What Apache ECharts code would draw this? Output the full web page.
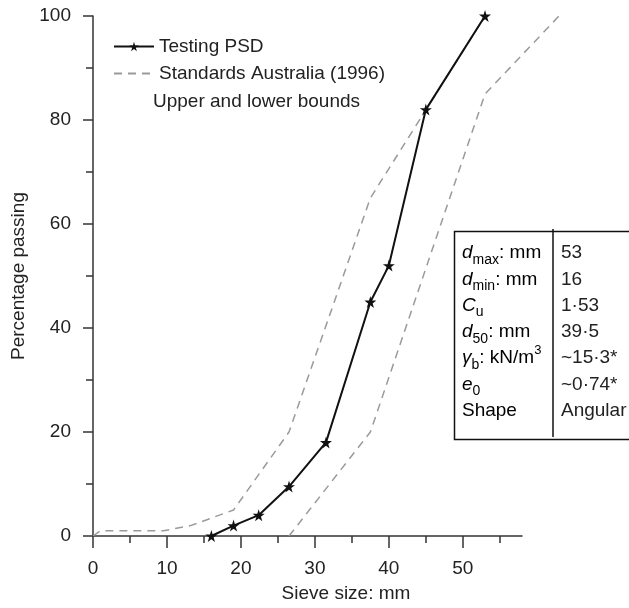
<!DOCTYPE html>
<html>
<head>
<meta charset="utf-8">
<script src="https://cdn.jsdelivr.net/npm/echarts@6/dist/echarts.min.js"></script>
<style>
  html, body { margin: 0; padding: 0; background: #fff; }
  #chart { width: 629px; height: 608px; }
</style>
</head>
<body>
<div id="chart"></div>
<script>
// sieve size (mm) / percentage passing
var psdSize = [16, 19, 22.4, 26.5, 31.5, 37.5, 40, 45, 53];
var psdPassing = [0, 2, 4, 9.5, 18, 45, 52, 82, 100];

var upperSize = [0, 1, 9.5, 13.2, 19, 26.5, 37.5, 53];
var upperPassing = [0, 1, 1, 2, 5, 20, 65, 100];

var lowerSize = [26.5, 37.5, 53, 63];
var lowerPassing = [0, 20, 85, 100];

var xMajorTicks = [0, 10, 20, 30, 40, 50];
var xMinorTicks = [5, 15, 25, 35, 45, 55];

var tableLabels = [
  '{i|d}{sub|max}{n|: mm}',
  '{i|d}{sub|min}{n|: mm}',
  '{i|C}{sub|u}',
  '{i|d}{sub|50}{n|: mm}',
  '{i|γ}{sub|b}{n|: kN/m}{sup|3}',
  '{i|e}{sub|0}',
  '{n|Shape}'
];
var tableValues = ['53', '16', '1·53', '39·5', '~15·3*', '~0·74*', 'Angular'];

function pairs(xs, ys) {
  return xs.map(function (x, i) { return [x, ys[i]]; });
}

var FONT = 'Liberation Sans, Arial, sans-serif';
var TXT = '#222';

var star = 'path://M50,0 L61,35 L98,35 L68,57 L79,91 L50,70 L21,91 L32,57 L2,35 L39,35 Z';

var richStyle = {
  i: { fontSize: 19, fontStyle: 'italic', fontFamily: FONT, color: TXT, lineHeight: 28 },
  n: { fontSize: 19, fontFamily: FONT, color: TXT, lineHeight: 28 },
  sub: { fontSize: 14, fontFamily: FONT, color: TXT, lineHeight: 14, verticalAlign: 'bottom' },
  sup: { fontSize: 13, fontFamily: FONT, color: TXT, lineHeight: 14, verticalAlign: 'top' }
};

var tableEls = [
  {
    type: 'rect', left: 452, top: 229,
    shape: { width: 200, height: 208 },
    style: { fill: 'none', stroke: '#111', lineWidth: 1.5 }
  },
  {
    type: 'line',
    shape: { x1: 553, y1: 229, x2: 553, y2: 437 },
    style: { stroke: '#111', lineWidth: 1.5 }
  }
];
tableLabels.forEach(function (lab, i) {
  tableEls.push({
    type: 'text', x: 462, y: 253 + i * 26.3,
    style: { text: lab, rich: richStyle, verticalAlign: 'middle', align: 'left' }
  });
  tableEls.push({
    type: 'text', x: 561, y: 253 + i * 26.3,
    style: { text: tableValues[i], font: '19px ' + FONT, fill: TXT, verticalAlign: 'middle', align: 'left' }
  });
});
tableEls.push({
  type: 'text', x: 153, y: 102,
  style: { text: 'Upper and lower bounds', font: '19px ' + FONT, fill: TXT, verticalAlign: 'middle' }
});

// the lower bound runs past the end of the x axis (to 63 mm), so it sits on
// a hidden axis with the same scale that reaches further right
var xScale = (629 - 93 - 107) / 58;
var farRight = 629 - 93 - 70 * xScale;

var tickStyle = { color: '#333', width: 1.5 };

var chart = echarts.init(document.getElementById('chart'));
chart.setOption({
  animation: false,
  backgroundColor: '#fff',
  grid: [
    { left: 93, right: 107, top: 16, bottom: 72 },
    { left: 93, right: 107, top: 16, bottom: 72 },
    { left: 93, right: farRight, top: 16, bottom: 72 }
  ],
  legend: {
    orient: 'vertical',
    left: 108, top: 32,
    itemWidth: 40, itemHeight: 12, itemGap: 8,
    textStyle: { fontSize: 19, fontFamily: FONT, color: TXT },
    data: [
      'Testing PSD',
      { name: 'Standards Australia (1996)', itemStyle: { opacity: 0 } }
    ]
  },
  xAxis: [
    {
      type: 'value', gridIndex: 0, min: 0, max: 58, interval: 5,
      name: 'Sieve size: mm', nameLocation: 'middle', nameGap: 48,
      nameTextStyle: { fontSize: 19, fontFamily: FONT, color: TXT, padding: [0, 0, 0, 77] },
      axisLine: { lineStyle: { color: '#333', width: 1.5 } },
      axisTick: { customValues: xMajorTicks, length: 12, lineStyle: tickStyle },
      axisLabel: { customValues: xMajorTicks, margin: 23, fontSize: 19, fontFamily: FONT, color: TXT },
      splitLine: { show: false }
    },
    {
      type: 'value', gridIndex: 1, min: 0, max: 58, interval: 5,
      axisLine: { show: false },
      axisTick: { customValues: xMinorTicks, length: 7, lineStyle: tickStyle },
      axisLabel: { show: false },
      splitLine: { show: false }
    },
    { type: 'value', gridIndex: 2, min: 0, max: 70, show: false }
  ],
  yAxis: [
    {
      type: 'value', gridIndex: 0, min: 0, max: 100, interval: 20,
      name: 'Percentage passing', nameLocation: 'middle', nameGap: 63, nameRotate: 90,
      nameTextStyle: { fontSize: 19, fontFamily: FONT, color: TXT },
      axisLine: { lineStyle: { color: '#333', width: 1.5 } },
      axisTick: { length: 10, lineStyle: tickStyle },
      minorTick: { show: true, splitNumber: 2, length: 7, lineStyle: tickStyle },
      axisLabel: { margin: 22, fontSize: 19, fontFamily: FONT, color: TXT },
      splitLine: { show: false }
    },
    { type: 'value', gridIndex: 1, min: 0, max: 100, show: false },
    { type: 'value', gridIndex: 2, min: 0, max: 100, show: false }
  ],
  series: [
    {
      name: 'Standards Australia (1996)', type: 'line',
      data: pairs(upperSize, upperPassing),
      symbol: 'none',
      lineStyle: { color: '#9a9a9a', width: 1.5, type: [8, 6] },
      itemStyle: { color: '#9a9a9a' }
    },
    {
      name: 'Standards Australia (1996)', type: 'line',
      xAxisIndex: 2, yAxisIndex: 2,
      data: pairs(lowerSize, lowerPassing),
      symbol: 'none',
      lineStyle: { color: '#9a9a9a', width: 1.5, type: [8, 6] },
      itemStyle: { color: '#9a9a9a' }
    },
    {
      name: 'Testing PSD', type: 'line',
      data: pairs(psdSize, psdPassing),
      symbol: star, symbolSize: 12,
      lineStyle: { color: '#111', width: 2 },
      itemStyle: { color: '#111' },
      z: 5
    }
  ],
  graphic: tableEls
});
</script>
</body>
</html>
